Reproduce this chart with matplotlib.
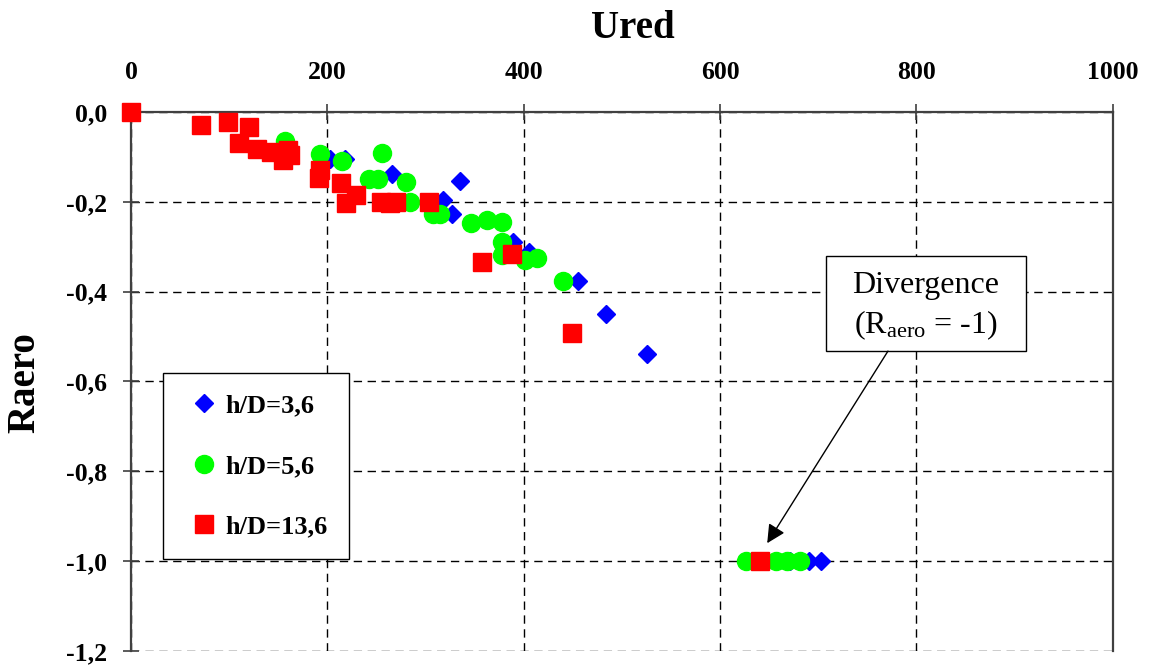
import numpy as np
import matplotlib.pyplot as plt
from matplotlib.ticker import FuncFormatter
from matplotlib.patches import Rectangle

plt.rcParams['font.family'] = ['Liberation Serif', 'DejaVu Serif']
plt.rcParams['mathtext.fontset'] = 'custom'
plt.rcParams['mathtext.rm'] = 'Liberation Serif'

# h/D = 3,6
x36 = [203, 218, 266, 335, 318, 327, 389, 405, 455, 484, 526, 671, 691, 703]
y36 = [-0.105, -0.105, -0.138, -0.153, -0.196, -0.226, -0.289, -0.311, -0.376, -0.450, -0.539, -1.0, -1.0, -1.0]

# h/D = 5,6
x56 = [157, 193, 215, 256, 242, 252, 280, 284, 308, 315, 346, 363, 378, 378, 378, 401, 414, 440, 626, 657, 668, 681]
y56 = [-0.064, -0.094, -0.108, -0.092, -0.150, -0.150, -0.155, -0.200, -0.226, -0.226, -0.248, -0.241, -0.244,
       -0.289, -0.318, -0.330, -0.324, -0.376, -1.0, -1.0, -1.0, -1.0]

# h/D = 13,6
x136 = [0, 71, 99, 120, 110, 128, 143, 160, 155, 162, 193, 191, 214, 219, 229, 255, 264, 270, 304, 358, 388, 449, 641]
y136 = [0, -0.029, -0.023, -0.033, -0.070, -0.083, -0.088, -0.085, -0.107, -0.095, -0.129, -0.148, -0.157, -0.203,
        -0.185, -0.200, -0.203, -0.200, -0.200, -0.333, -0.316, -0.493, -1.0]

xticks = [0, 200, 400, 600, 800, 1000]
yticks = [0.0, -0.2, -0.4, -0.6, -0.8, -1.0, -1.2]

fig = plt.figure(figsize=(11.49, 6.68), dpi=100)
ax = fig.add_axes([0.114, 0.0255, 0.8545, 0.8068])

ax.plot(x36, y36, ls='none', marker='D', ms=9, color='#0000FF', label='h/D=3,6', clip_on=False, zorder=3)
ax.plot(x56, y56, ls='none', marker='o', ms=13, color='#00FF00', label='h/D=5,6', clip_on=False, zorder=4)
ax.plot(x136, y136, ls='none', marker='s', ms=12.5, color='#FF0000', label='h/D=13,6', clip_on=False, zorder=5)

ax.set_xlim(0, 1000)
ax.set_ylim(-1.2, 0)
ax.xaxis.tick_top()
ax.set_xticks(xticks)
ax.set_yticks(yticks)
ax.yaxis.set_major_formatter(FuncFormatter(lambda v, p: ('%.1f' % v).replace('.', ',')))
ax.tick_params(axis='both', direction='inout', length=12, width=1.2, color='#404040', labelsize=18.5)
ax.tick_params(axis='y', pad=11)
ax.tick_params(axis='x', pad=14)
for lab in ax.get_xticklabels() + ax.get_yticklabels():
    lab.set_fontweight('bold')

for s in ['top', 'left', 'right']:
    ax.spines[s].set_color('#404040')
    ax.spines[s].set_linewidth(1.6)
ax.spines['bottom'].set_visible(False)

ax.grid(True, color='black', ls=(0, (6, 4)), lw=1)
ax.set_axisbelow(True)

fig.text(0.551, 0.958, 'Ured', ha='center', va='center', fontsize=28, fontweight='bold')
fig.text(0.022, 0.428, 'Raero', ha='center', va='center', rotation=90, fontsize=28, fontweight='bold')

leg = ax.legend(loc='upper left', bbox_to_anchor=(0.033, 0.516), fancybox=False, edgecolor='black',
                prop={'weight': 'bold', 'size': 19}, labelspacing=1.4, borderpad=0.8,
                handletextpad=0.1, handlelength=1.45, borderaxespad=0, framealpha=1)
leg.get_frame().set_linewidth(1.0)

# annotation box
ax.add_patch(Rectangle((707.7, -0.5323), 203.7, 0.2116, fc='white', ec='black', lw=1, zorder=6))
ax.text(809.6, -0.386, 'Divergence', ha='center', va='center', fontsize=23, zorder=7)
ax.text(809.6, -0.474, '($\\mathregular{R_{aero}}$ = -1)', ha='center', va='center', fontsize=23, zorder=7)
ax.annotate('', xy=(648, -0.96), xytext=(771, -0.5323),
            arrowprops=dict(arrowstyle='-|>', color='black', lw=1, mutation_scale=28, shrinkA=0, shrinkB=0),
            zorder=7)

fig.savefig('out.png', dpi=100)
